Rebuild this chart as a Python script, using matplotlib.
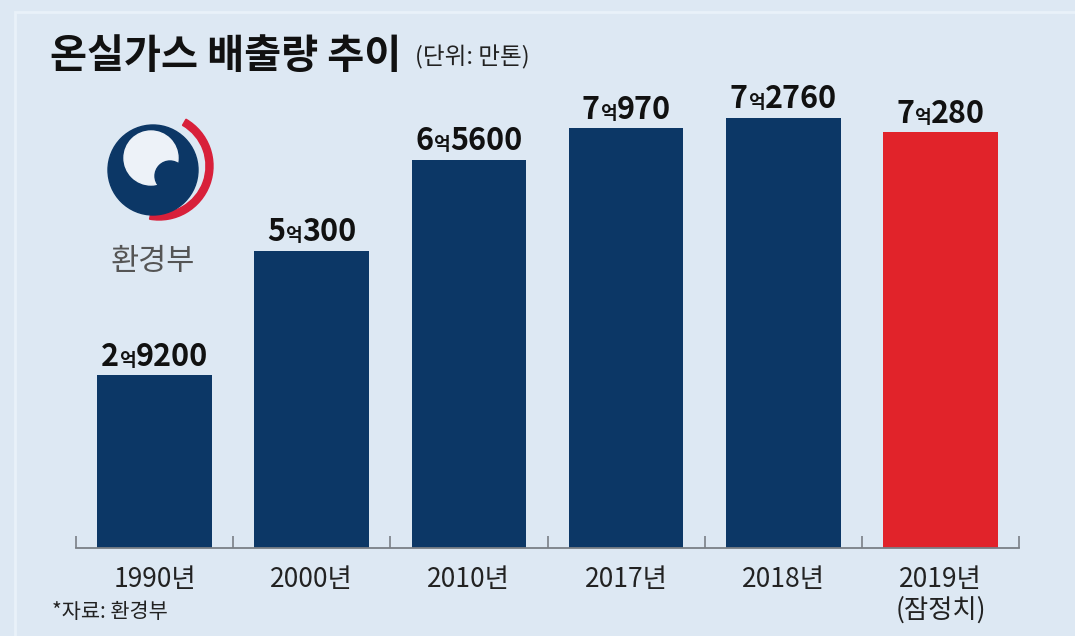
import matplotlib
matplotlib.use("Agg")
import matplotlib.pyplot as plt
from matplotlib.offsetbox import TextArea, HPacker, AnnotationBbox
from matplotlib.patches import Circle, Wedge, Rectangle

plt.rcParams['font.family'] = ['Noto Sans CJK KR', 'DejaVu Sans']

categories = ["1990년", "2000년", "2010년", "2017년", "2018년", "2019년\n(잠정치)"]
values = [29200, 50300, 65600, 70970, 72760, 70280]   # 만톤
colors = ["#0c3766"] * 5 + ["#e1232a"]

BG = "#dde8f3"
W, H = 1075, 636
fig = plt.figure(figsize=(W / 100, H / 100), dpi=100, facecolor=BG)

def fx(px):
    return px / W

def fy(py):
    return 1 - py / H

# subtle frame (left and top edges only visible)
fig.patches.append(Rectangle((fx(15), fy(700)), 1.0, fy(12) - fy(700),
                             transform=fig.transFigure, fill=False,
                             edgecolor="#e9f1f9", lw=2))

ax = fig.add_axes([fx(76), fy(548), fx(1019) - fx(76), fy(75) - fy(548)])
ax.set_facecolor(BG)
x = list(range(len(categories)))
ax.bar(x, values, width=0.73, color=colors, zorder=2)
ax.set_xlim(-0.5, len(categories) - 0.5)
ax.set_ylim(0, 80000)

for s in ["top", "right", "left"]:
    ax.spines[s].set_visible(False)
ax.spines["bottom"].set_color("#7a7f86")
ax.spines["bottom"].set_linewidth(1.3)
ax.set_yticks([])
ax.set_xticks(x)
ax.set_xticklabels(categories, fontsize=19, color="#222222", linespacing=1.15, va="top")
ax.tick_params(axis="x", which="major", length=0, pad=13)
ax.set_xticks([i - 0.5 for i in range(len(categories) + 1)], minor=True)
ax.tick_params(axis="x", which="minor", direction="in", length=9, color="#7a7f86", width=1.2)

# value labels: "2억9200" with smaller 억
for xi, v in zip(x, values):
    eok, man = divmod(v, 10000)
    parts = [
        TextArea(str(eok), textprops=dict(fontsize=22, fontweight="bold", color="#111111")),
        TextArea("억", textprops=dict(fontsize=13, fontweight="bold", color="#111111")),
        TextArea(str(man), textprops=dict(fontsize=22, fontweight="bold", color="#111111")),
    ]
    pack = HPacker(children=parts, align="baseline", pad=0, sep=0)
    ab = AnnotationBbox(pack, (xi, v), xybox=(0, 2), xycoords="data",
                        boxcoords="offset points", box_alignment=(0.5, 0),
                        frameon=False, pad=0)
    ax.add_artist(ab)

# title
fig.text(fx(50), fy(57), "온실가스 배출량 추이", fontsize=29, fontweight="bold",
         color="#111111", va="center", ha="left")
fig.text(fx(415), fy(57), "(단위: 만톤)", fontsize=17, color="#222222",
         va="center", ha="left")

# ministry emblem (approximation)
cx, cy = 153, 170
ax_logo = fig.add_axes([0, 0, 1, 1], facecolor="none")
ax_logo.set_xlim(0, W)
ax_logo.set_ylim(H, 0)
ax_logo.axis("off")
ax_logo.add_patch(Wedge((cx + 6, cy - 4), 54, -60, 100, width=7, color="#d8203a"))
ax_logo.add_patch(Circle((cx, cy), 45, color="#0c3766"))
ax_logo.add_patch(Circle((cx - 2, cy - 12), 27, color="#edf2f8"))
ax_logo.add_patch(Circle((cx + 17, cy + 6), 15, color="#0c3766"))
ax_logo.add_patch(Circle((cx - 6, cy - 14), 11, color="#edf2f8"))
fig.text(fx(153), fy(262), "환경부", fontsize=22, color="#555555",
         ha="center", va="center")

# source
fig.text(fx(52), fy(612), "*자료: 환경부", fontsize=15, color="#222222",
         ha="left", va="center")

fig.savefig("out.png", dpi=100, facecolor=BG)
